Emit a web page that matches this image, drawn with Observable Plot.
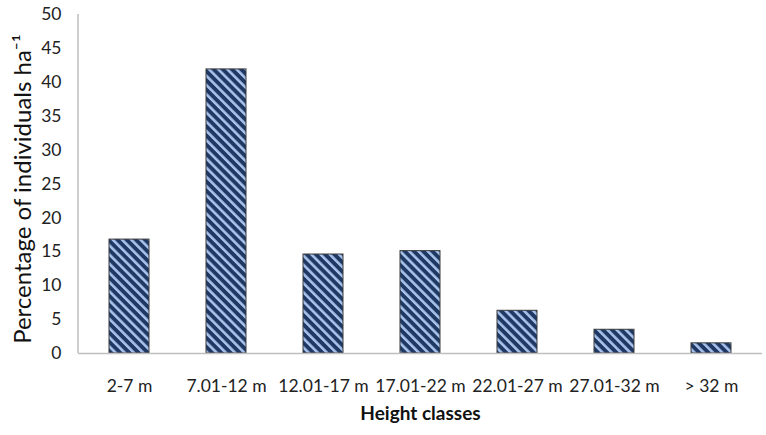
<!DOCTYPE html>
<html>
<head>
<meta charset="utf-8">
<script src="https://cdn.jsdelivr.net/npm/d3@7"></script>
<script src="https://cdn.jsdelivr.net/npm/@observablehq/plot@0.6"></script>
<style>
  html, body { margin: 0; padding: 0; background: #fff; }
  #chart svg { font-family: Lato, "Open Sans", sans-serif; }
</style>
</head>
<body>
<div id="chart"></div>
<script>
const categories = ["2-7 m", "7.01-12 m", "12.01-17 m", "17.01-22 m", "22.01-27 m", "27.01-32 m", "> 32 m"];
const values = [16.8, 41.9, 14.6, 15.1, 6.3, 3.5, 1.5];
const yTicks = [0, 5, 10, 15, 20, 25, 30, 35, 40, 45, 50];
const xTitle = "Height classes";
const yTitle = "Percentage of individuals ha⁻¹";

const data = categories.map((c, i) => ({category: c, value: values[i]}));

const chart = Plot.plot({
  width: 766,
  height: 435,
  marginLeft: 78,
  marginRight: 4,
  marginTop: 14,
  marginBottom: 82,
  style: {fontFamily: "Lato, 'Open Sans', sans-serif", fontSize: "17px", color: "#222"},
  x: {domain: categories, paddingInner: 0.59, paddingOuter: 0.295, label: null},
  y: {domain: [0, 50], label: null},
  marks: [
    Plot.axisY({ticks: yTicks, tickSize: 0, tickPadding: 17, fontSize: 17.5, label: null}),
    Plot.axisX({tickSize: 0, tickPadding: 26, fontSize: 17.5, label: null}),
    Plot.barY(data, {x: "category", y: "value", fill: "url(#stripes)", stroke: "#3a3a3a", strokeWidth: 1}),
    Plot.ruleY([0], {stroke: "#bfbfbf", strokeWidth: 1.5}),
    Plot.text([xTitle], {frameAnchor: "bottom", dy: 66, fontWeight: "bold", fontSize: 19, fill: "#111"}),
    Plot.text([yTitle], {frameAnchor: "left", textAnchor: "middle", dx: -55, dy: 5, rotate: -90, fontSize: 24, fill: "#111"})
  ]
});

// Y axis line and stripe pattern
const svg = d3.select(chart);
const defs = svg.insert("defs", ":first-child");
const pat = defs.append("pattern")
  .attr("id", "stripes")
  .attr("patternUnits", "userSpaceOnUse")
  .attr("width", 6.5).attr("height", 6.5)
  .attr("patternTransform", "rotate(-45)");
pat.append("rect").attr("width", 6.5).attr("height", 6.5).attr("fill", "#1f3864");
pat.append("rect").attr("x", 0).attr("width", 2.6).attr("height", 6.5).attr("fill", "#a8c4ea");

svg.append("line")
  .attr("x1", 78).attr("x2", 78)
  .attr("y1", 14).attr("y2", 353)
  .attr("stroke", "#bfbfbf").attr("stroke-width", 1.5);

document.getElementById("chart").appendChild(chart);
</script>
</body>
</html>
